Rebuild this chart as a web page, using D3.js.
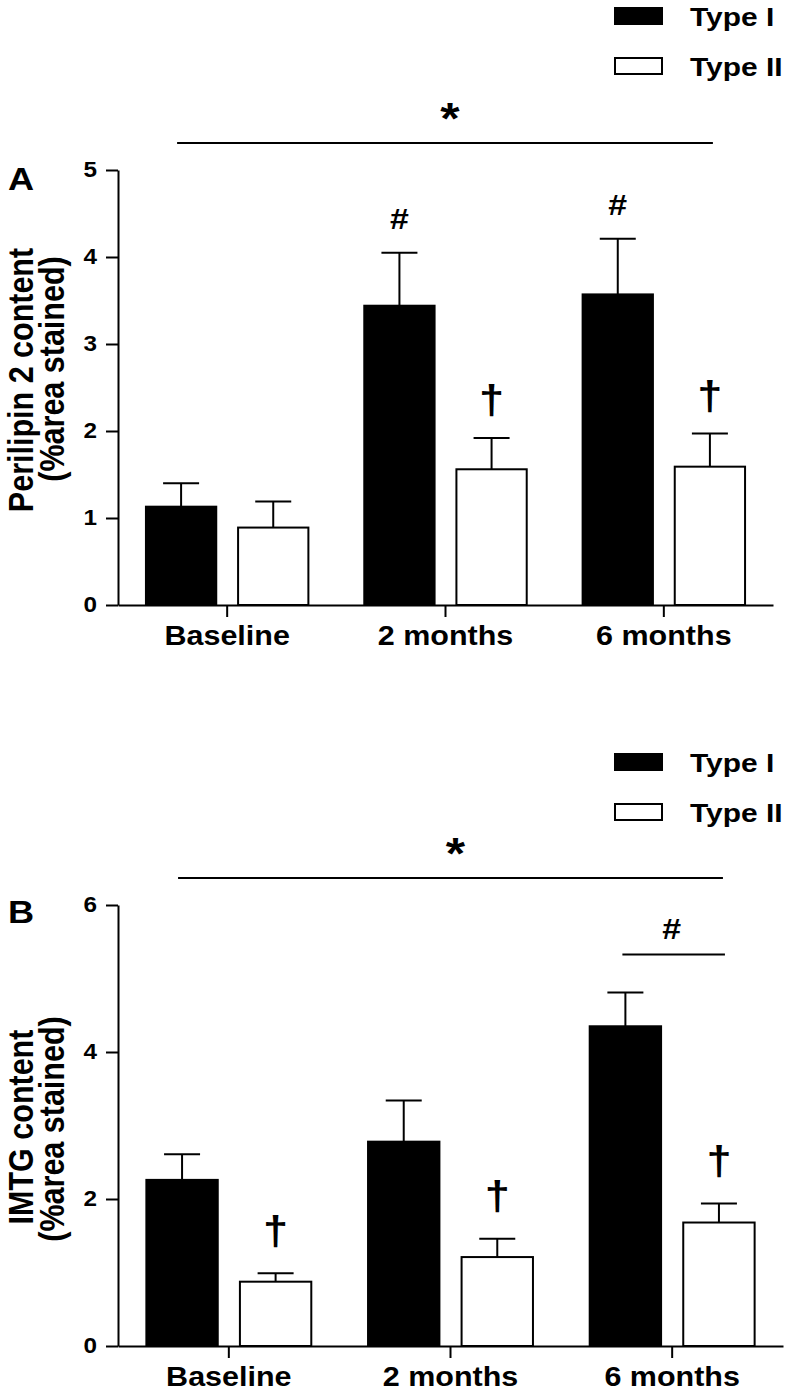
<!DOCTYPE html>
<html><head><meta charset="utf-8">
<script src="https://cdn.jsdelivr.net/npm/d3@7"></script>
<style>body{margin:0;background:#fff}</style>
</head><body>
<svg id="chart" width="786" height="1400"></svg>
<script>
// ---------- data ----------
const categories = ["Baseline", "2 months", "6 months"];
const seriesNames = ["Type I", "Type II"];

// Panel A: Perilipin 2 content (% area stained)
const perilipinTypeI = [1.13, 3.44, 3.57];
const perilipinTypeIErr = [0.27, 0.61, 0.64];
const perilipinTypeII = [0.89, 1.56, 1.59];
const perilipinTypeIIErr = [0.30, 0.36, 0.38];
const perilipinTicks = [0, 1, 2, 3, 4, 5];

// Panel B: IMTG content (% area stained)
const imtgTypeI = [2.26, 2.78, 4.35];
const imtgTypeIErr = [0.35, 0.56, 0.46];
const imtgTypeII = [0.875, 1.21, 1.68];
const imtgTypeIIErr = [0.115, 0.25, 0.26];
const imtgTicks = [0, 2, 4, 6];

// significance marks
const perilipinMarks = [
  {cat: "2 months", series: "Type I", sym: "#"},
  {cat: "2 months", series: "Type II", sym: "\u2020"},
  {cat: "6 months", series: "Type I", sym: "#"},
  {cat: "6 months", series: "Type II", sym: "\u2020"}
];
const imtgMarks = [
  {cat: "Baseline", series: "Type II", sym: "\u2020"},
  {cat: "2 months", series: "Type II", sym: "\u2020"},
  {cat: "6 months", series: "Type II", sym: "\u2020"}
];
const imtgBracket = [{cat: "6 months", sym: "#"}];

// ---------- drawing ----------
const SX = 1.13; // horizontal stretch of the original figure's text
const FONT = "'Liberation Sans', Arial, Helvetica, sans-serif";
const svg = d3.select("#chart");

function drawPanel(cfg) {
  const g = svg.append("g");
  const x0 = d3.scaleBand().domain(categories).range([cfg.xLeft, cfg.xRight]).padding(0);
  const half = 0.372 * x0.bandwidth();
  const x1 = d3.scaleBand().domain(seriesNames).range([-half, half]).paddingInner(0.237);
  const y = d3.scaleLinear().domain([0, d3.max(cfg.ticks)]).range([cfg.yBottom, cfg.yTop]);
  const cx = (cat, s) => x0(cat) + x0.bandwidth() / 2 + x1(s) + x1.bandwidth() / 2;

  const rows = [];
  categories.forEach((c, i) => {
    seriesNames.forEach((s, j) => {
      rows.push({cat: c, series: s, value: cfg.values[j][i], err: cfg.errs[j][i]});
    });
  });
  const byKey = {};
  rows.forEach(r => byKey[r.cat + "|" + r.series] = r);
  const errTop = (cat, s) => { const r = byKey[cat + "|" + s]; return y(r.value + r.err); };

  // error bars (upper only)
  const eb = g.append("g").attr("stroke", "#000").attr("stroke-width", 2);
  eb.selectAll("line.v").data(rows).join("line")
    .attr("x1", d => cx(d.cat, d.series)).attr("x2", d => cx(d.cat, d.series))
    .attr("y1", d => y(d.value)).attr("y2", d => y(d.value + d.err));
  eb.selectAll("line.c").data(rows).join("line")
    .attr("x1", d => cx(d.cat, d.series) - 18).attr("x2", d => cx(d.cat, d.series) + 18)
    .attr("y1", d => y(d.value + d.err)).attr("y2", d => y(d.value + d.err));

  // bars
  g.append("g").selectAll("rect").data(rows).join("rect")
    .attr("x", d => x0(d.cat) + x0.bandwidth() / 2 + x1(d.series))
    .attr("width", x1.bandwidth())
    .attr("y", d => y(d.value))
    .attr("height", d => y(0) - y(d.value))
    .attr("fill", d => d.series === "Type I" ? "#000" : "#fff")
    .attr("stroke", "#000").attr("stroke-width", 2);

  // y axis
  const ya = g.append("g").attr("transform", `translate(${cfg.xLeft},0)`)
    .call(d3.axisLeft(y).tickValues(cfg.ticks).tickFormat(d3.format("d")).tickSize(12).tickSizeOuter(0).tickPadding(9));
  ya.selectAll("path,line").attr("stroke", "#000").attr("stroke-width", 2);
  ya.selectAll("text").attr("font-family", FONT).attr("font-weight", "bold").attr("font-size", 21.5)
    .attr("fill", "#000").attr("x", -21 / SX).attr("transform", `scale(${SX},1)`);

  // x axis
  const xa = g.append("g").attr("transform", `translate(0,${cfg.yBottom})`)
    .call(d3.axisBottom(x0).tickSize(12).tickSizeOuter(0).tickPadding(9));
  xa.selectAll("path,line").attr("stroke", "#000").attr("stroke-width", 2);
  xa.selectAll("text").attr("font-family", FONT).attr("font-weight", "bold").attr("font-size", 27)
    .attr("fill", "#000").attr("transform", `scale(${SX},1)`);

  // y title (two lines, rotated)
  cfg.title.forEach((t, i) => {
    g.append("text").text(t.text)
      .attr("transform", `translate(${t.x},${t.cy}) rotate(-90) scale(1,${SX})`)
      .attr("text-anchor", "middle")
      .attr("font-family", FONT).attr("font-weight", "bold").attr("font-size", 30.5).attr("fill", "#000");
  });

  // panel letter
  g.append("text").text(cfg.letter)
    .attr("transform", `translate(8,${cfg.letterY}) scale(${SX},1)`)
    .attr("font-family", FONT).attr("font-weight", "bold").attr("font-size", 32).attr("fill", "#000");

  // legend
  seriesNames.forEach((s, i) => {
    const ly = cfg.legendY[i];
    g.append("rect").attr("x", 615).attr("y", ly + 1).attr("width", 47).attr("height", 16)
      .attr("fill", s === "Type I" ? "#000" : "#fff").attr("stroke", "#000").attr("stroke-width", 2);
    g.append("text").text(s)
      .attr("transform", `translate(690,${ly + 19}) scale(${SX},1)`)
      .attr("font-family", FONT).attr("font-weight", "bold").attr("font-size", 26.5).attr("fill", "#000");
  });

  // overall significance line with asterisk
  const sx1 = cx(categories[0], seriesNames[0]) - 4;
  const sx2 = cx(categories[2], seriesNames[1]) + cfg.starLineExt;
  const sy = cfg.yTop - 27;
  g.append("line").attr("x1", sx1).attr("x2", sx2).attr("y1", sy).attr("y2", sy)
    .attr("stroke", "#000").attr("stroke-width", 2);
  g.append("text").text("*")
    .attr("transform", `translate(${(sx1 + sx2) / 2 + 5},${sy - 34.5 + 25}) scale(${SX},1)`)
    .attr("text-anchor", "middle")
    .attr("font-family", FONT).attr("font-weight", "bold").attr("font-size", 44).attr("fill", "#000");

  // marks over bars
  cfg.marks.forEach(m => {
    const isHash = m.sym === "#";
    const off = isHash ? cfg.hashOff : cfg.daggerOff;
    g.append("text").text(m.sym)
      .attr("transform", `translate(${cx(m.cat, m.series)},${errTop(m.cat, m.series) - off}) scale(${SX},1)`)
      .attr("text-anchor", "middle")
      .attr("font-family", FONT).attr("font-weight", "bold")
      .attr("font-size", isHash ? 30 : 40).attr("fill", "#000");
  });

  // bracket mark
  (cfg.bracket || []).forEach(b => {
    const bx1 = cx(b.cat, seriesNames[0]) - 3;
    const bx2 = cx(b.cat, seriesNames[1]) + 6;
    const by = errTop(b.cat, seriesNames[0]) - 38;
    g.append("line").attr("x1", bx1).attr("x2", bx2).attr("y1", by).attr("y2", by)
      .attr("stroke", "#000").attr("stroke-width", 2);
    g.append("text").text(b.sym)
      .attr("transform", `translate(${(bx1 + bx2) / 2 - 2},${by - 15}) scale(${SX},1)`)
      .attr("text-anchor", "middle")
      .attr("font-family", FONT).attr("font-weight", "bold").attr("font-size", 30).attr("fill", "#000");
  });
}

drawPanel({
  letter: "A", letterY: 190,
  xLeft: 118, xRight: 773, yTop: 170, yBottom: 605,
  ticks: perilipinTicks,
  values: [perilipinTypeI, perilipinTypeII],
  errs: [perilipinTypeIErr, perilipinTypeIIErr],
  title: [{text: "Perilipin 2 content", x: 33, cy: 380}, {text: "(%area stained)", x: 64, cy: 369}],
  legendY: [7, 57],
  starLineExt: 3,
  marks: perilipinMarks, hashOff: 24, daggerOff: 23.5
});

drawPanel({
  letter: "B", letterY: 923,
  xLeft: 118, xRight: 783, yTop: 905, yBottom: 1346,
  ticks: imtgTicks,
  values: [imtgTypeI, imtgTypeII],
  errs: [imtgTypeIErr, imtgTypeIIErr],
  title: [{text: "IMTG content", x: 33, cy: 1127}, {text: "(%area stained)", x: 64, cy: 1129}],
  legendY: [753, 803],
  starLineExt: 4,
  marks: imtgMarks, hashOff: 24, daggerOff: 28.5,
  bracket: imtgBracket
});
</script>
</body></html>
